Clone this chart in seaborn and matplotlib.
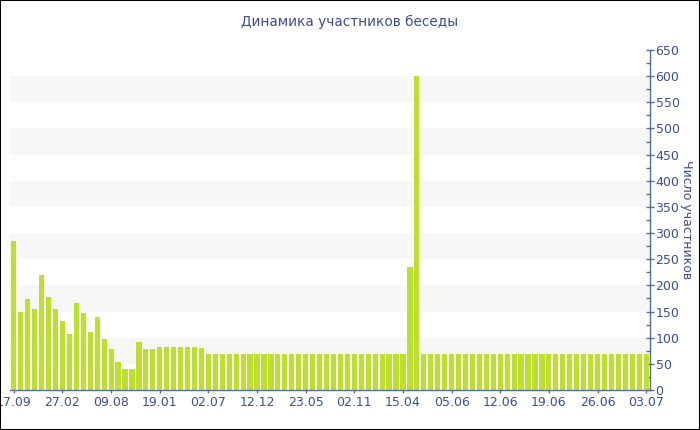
import matplotlib
matplotlib.use("Agg")
import matplotlib.pyplot as plt
import seaborn as sns
import pandas as pd
from matplotlib.patches import Rectangle
from matplotlib.ticker import MultipleLocator

# ---------------- Data ----------------
head_values = [285, 149, 174, 154, 220, 178, 154, 132, 108, 166,
               147, 110, 140, 98, 78, 54, 41, 41, 91, 79,
               79, 82, 82, 82, 82, 82, 82, 80]
middle_values = [69] * 29
spike_values = [235, 600]
tail_values = [69] * 33
values = head_values + middle_values + spike_values + tail_values

tick_labels = ["17.09", "27.02", "09.08", "19.01", "02.07", "12.12", "23.05",
               "02.11", "15.04", "05.06", "12.06", "19.06", "26.06", "03.07"]

title = "Динамика участников беседы"
ylabel = "Число участников"

# ---------------- Style ----------------
BAR_COLOR = "#bde02f"
TEXT_COLOR = "#3d4f91"
AXIS_COLOR = "#5a6aa6"
BAND_COLOR = "#f7f7f7"

sns.set_theme(style="white")
plt.rcParams["font.family"] = ["DejaVu Sans"]

df = pd.DataFrame({"idx": range(len(values)), "count": values})

fig = plt.figure(figsize=(7, 4.3), dpi=100)
ax = fig.add_axes([10 / 700, 1 - 390 / 430, 640 / 700, 340 / 430])

# alternating light bands
for lo in range(50, 650, 100):
    ax.axhspan(lo, lo + 50, color=BAND_COLOR, zorder=0, lw=0)

sns.barplot(data=df, x="idx", y="count", color=BAR_COLOR, width=0.75,
            saturation=1, linewidth=0, ax=ax, zorder=2)

ax.set_xlim(-0.55, len(values) - 0.45)
ax.set_ylim(0, 650)

ax.set_xticks(range(0, len(values), 7))
ax.set_xticklabels(tick_labels)
ax.set_xlabel("")

ax.yaxis.tick_right()
ax.yaxis.set_label_position("right")
ax.yaxis.set_major_locator(MultipleLocator(50))
ax.yaxis.set_minor_locator(MultipleLocator(25))
ax.set_ylabel(ylabel, rotation=270, labelpad=10, color=TEXT_COLOR, fontsize=9)

ax.tick_params(axis="both", colors=AXIS_COLOR, labelcolor=TEXT_COLOR, labelsize=9)
ax.tick_params(axis="y", which="major", direction="inout", length=6, width=1, pad=1)
ax.tick_params(axis="y", which="minor", direction="in", length=3, width=1,
               colors=AXIS_COLOR, right=True, left=False)
ax.tick_params(axis="x", which="major", direction="inout", length=5, width=1,
               bottom=True, pad=2)

for side in ["left", "top"]:
    ax.spines[side].set_visible(False)
for side in ["right", "bottom"]:
    ax.spines[side].set_visible(True)
    ax.spines[side].set_color(AXIS_COLOR)
    ax.spines[side].set_linewidth(1)

ax.grid(False)

fig.text(0.5, 1 - 22 / 430, title, ha="center", va="center",
         color=TEXT_COLOR, fontsize=9.8)

# figure border
fig.patches.append(Rectangle((0, 0), 1, 1, transform=fig.transFigure,
                             fill=False, edgecolor="black", lw=1.5))

fig.savefig("out.png", dpi=100)
